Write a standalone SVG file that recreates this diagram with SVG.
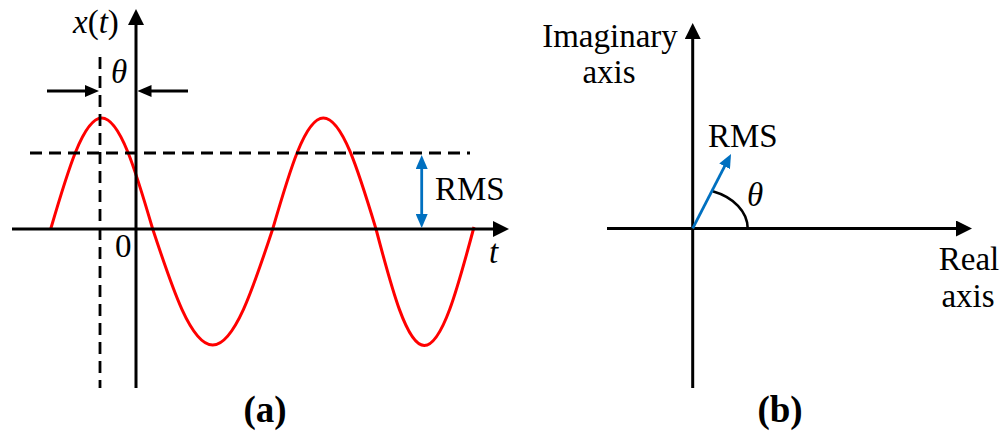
<svg xmlns="http://www.w3.org/2000/svg" width="1004" height="438" viewBox="0 0 1004 438">
<defs>
<style>
.ax{stroke:#000;stroke-width:3;fill:none}
.dash{stroke:#000;stroke-width:2.8;fill:none;stroke-dasharray:12 7}
.wave{stroke:#FF0000;stroke-width:3;fill:none}
.blue{stroke:#0070C0;stroke-width:2.8;fill:none}
text{font-family:"Liberation Serif","DejaVu Serif",serif}
.lab{font-size:33px;fill:#000}
.it{font-style:italic}
.cap{font-size:37px;font-weight:bold;fill:#000;text-anchor:middle}
</style>
<marker id="ahBig" viewBox="0 0 16 16" markerWidth="16" markerHeight="16" refX="6" refY="8" markerUnits="userSpaceOnUse" orient="auto">
<path d="M0,0 L16,8 L0,16 z" fill="#000"/>
</marker>
<marker id="ahSmall" viewBox="0 0 14 12" markerWidth="14" markerHeight="12" refX="5" refY="6" markerUnits="userSpaceOnUse" orient="auto-start-reverse">
<path d="M0,0 L14,6 L0,12 z" fill="#000"/>
</marker>
<marker id="ahBlue" viewBox="0 0 14 12" markerWidth="14" markerHeight="12" refX="5" refY="6" markerUnits="userSpaceOnUse" orient="auto-start-reverse">
<path d="M0,0 L14,6 L0,12 z" fill="#0070C0"/>
</marker>
</defs>
<rect width="1004" height="438" fill="#fff"/>

<g id="panel-a">
<g id="wave-a">
<path class="wave" d="M50.7,229 C67.3,172.2 83.2,118 101.7,118 C120.2,118 136.1,172.2 152.7,229 C172.3,288.4 191,345 212.7,345 C234.4,345 253.1,288.4 272.7,229 C289.2,172.2 305,118 323.3,118 C342.4,118 358.8,172.2 376,229 C391.7,288.7 406.8,345.5 424.3,345.5 C442.3,345.5 457.8,287.7 474,227"/>
</g>
<g id="guides-a">
<line class="dash" x1="100" y1="57" x2="100" y2="388"/>
<line class="dash" x1="30" y1="153" x2="470" y2="153"/>
</g>
<g id="labels-a">
<text class="lab" x="73" y="33"><tspan class="it">x</tspan>(<tspan class="it">t</tspan>)</text>
<text class="lab it" x="111" y="83">θ</text>
<text class="lab" x="115" y="257" font-size="30">0</text>
<text class="lab it" x="489" y="263">t</text>
<text class="lab" x="435" y="200">RMS</text>
</g>
</g>

<g id="panel-b">
<g id="labels-b">
<text class="lab" x="610" y="47" text-anchor="middle">Imaginary</text>
<text class="lab" x="609" y="83" text-anchor="middle">axis</text>
<text class="lab" x="969" y="270" text-anchor="middle">Real</text>
<text class="lab" x="968" y="307" text-anchor="middle">axis</text>
<text class="lab" x="708" y="147">RMS</text>
<text class="lab it" x="747" y="206">θ</text>
</g>
<path id="angle-arc" d="M712.7,191.3 A55,40 0 0 1 747.7,228.3" stroke="#000" stroke-width="2.6" fill="none"/>
</g>

<g id="connectors">
<line class="ax" x1="136" y1="388" x2="136" y2="19" marker-end="url(#ahBig)"/>
<line class="ax" x1="12" y1="229" x2="499" y2="229" marker-end="url(#ahBig)"/>
<line class="ax" x1="47" y1="91" x2="90" y2="91" marker-end="url(#ahSmall)"/>
<line class="ax" x1="188" y1="91" x2="146.5" y2="91" marker-end="url(#ahSmall)"/>
<line class="blue" x1="421.7" y1="164" x2="421.7" y2="219" marker-start="url(#ahBlue)" marker-end="url(#ahBlue)"/>
<line class="ax" x1="692.7" y1="388" x2="692.7" y2="33" marker-end="url(#ahBig)"/>
<line class="ax" x1="607" y1="228.5" x2="962" y2="228.5" marker-end="url(#ahBig)"/>
<line class="blue" x1="692.7" y1="228.3" x2="726.9" y2="161.9" marker-end="url(#ahBlue)"/>
</g>

<g id="captions">
<text class="cap" x="265" y="422">(a)</text>
<text class="cap" x="780" y="422">(b)</text>
</g>
</svg>
